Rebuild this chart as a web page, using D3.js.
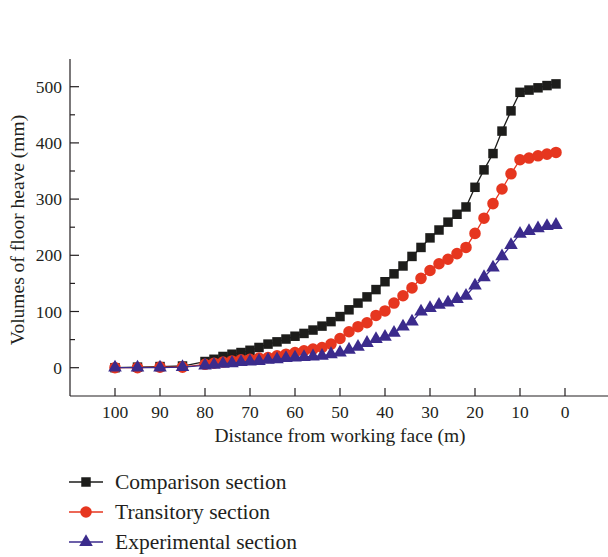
<!DOCTYPE html>
<html>
<head>
<meta charset="utf-8">
<script src="https://cdn.jsdelivr.net/npm/d3@7"></script>
<style>
  body { margin: 0; background: #fff; }
  svg text { font-family: "Liberation Serif", "Times New Roman", serif; fill: #231f20; }
</style>
</head>
<body>
<div class="chart"></div>
<script>
// distance from working face (m)
const distance = [100, 95, 90, 85, 80, 78, 76, 74, 72, 70, 68, 66, 64, 62, 60, 58, 56, 54, 52, 50,
  48, 46, 44, 42, 40, 38, 36, 34, 32, 30, 28, 26, 24, 22, 20, 18, 16, 14, 12, 10, 8, 6, 4, 2];

const comparison = [0, 1, 2, 3, 11, 15, 20, 24, 27, 31, 36, 42, 46, 51, 56, 61, 67, 74, 82, 91,
  103, 115, 126, 139, 153, 167, 181, 198, 214, 231, 245, 259, 273, 286, 321, 352, 381, 421, 457, 490, 494, 498, 502, 505];

const transitory = [0, 0, 1, 1, 6, 8, 10, 12, 14, 15, 17, 18, 21, 24, 27, 30, 33, 36, 42, 52,
  64, 73, 80, 93, 101, 115, 128, 142, 159, 173, 185, 193, 203, 214, 239, 266, 292, 318, 345, 370, 373, 377, 380, 383];

const experimental = [0, 0, 0, 1, 4, 5, 7, 8, 10, 11, 12, 14, 15, 17, 18, 19, 20, 21, 24, 27,
  32, 37, 44, 51, 55, 62, 73, 82, 100, 106, 112, 116, 122, 128, 146, 161, 178, 198, 218, 238, 243, 248, 252, 254];

const xTicks = [100, 90, 80, 70, 60, 50, 40, 30, 20, 10, 0];
const yTicks = [0, 100, 200, 300, 400, 500];

const seriesNames = ["Comparison section", "Transitory section", "Experimental section"];
const seriesColors = ["#1d1d1b", "#e6361f", "#3b2b8c"];
const seriesShapes = [d3.symbolSquare, d3.symbolCircle, d3.symbolTriangle];
const seriesValues = [comparison, transitory, experimental];

const W = 608, H = 557;
const svg = d3.select(".chart").append("svg")
  .attr("width", W)
  .attr("height", H);

const x = d3.scaleLinear().domain([100, 0]).range([115, 565]);
const y = d3.scaleLinear().domain([0, 500]).range([367.7, 86.7]);
const axisX = 70, axisY = 396, axisTop = 59;

// axes lines
svg.append("line").attr("x1", axisX).attr("x2", axisX).attr("y1", axisTop).attr("y2", axisY)
  .attr("stroke", "#231f20").attr("stroke-width", 1.2);
svg.append("line").attr("x1", axisX).attr("x2", W).attr("y1", axisY).attr("y2", axisY)
  .attr("stroke", "#231f20").attr("stroke-width", 1.2);

// y ticks (inward), minor every 50
const yMinor = d3.range(50, 500, 100);
svg.selectAll(".ytick").data(yTicks).enter().append("line")
  .attr("x1", axisX).attr("x2", axisX + 9)
  .attr("y1", d => y(d)).attr("y2", d => y(d))
  .attr("stroke", "#231f20").attr("stroke-width", 1.2);
svg.selectAll(".yminor").data(yMinor).enter().append("line")
  .attr("x1", axisX).attr("x2", axisX + 5)
  .attr("y1", d => y(d)).attr("y2", d => y(d))
  .attr("stroke", "#231f20").attr("stroke-width", 1.2);
svg.selectAll(".ylab").data(yTicks).enter().append("text")
  .attr("x", 62).attr("y", d => y(d) + 6)
  .attr("text-anchor", "end")
  .attr("font-size", 17.5)
  .text(d => d);

// x ticks (inward)
svg.selectAll(".xtick").data(xTicks).enter().append("line")
  .attr("x1", d => x(d)).attr("x2", d => x(d))
  .attr("y1", axisY).attr("y2", axisY - 8)
  .attr("stroke", "#231f20").attr("stroke-width", 1.2);
svg.selectAll(".xlab").data(xTicks).enter().append("text")
  .attr("x", d => x(d)).attr("y", 418)
  .attr("text-anchor", "middle")
  .attr("font-size", 17.5)
  .text(d => d);

svg.append("text")
  .attr("x", 340).attr("y", 442)
  .attr("text-anchor", "middle")
  .attr("font-size", 19.5)
  .text("Distance from working face (m)");

svg.append("text")
  .attr("transform", "translate(24,230) rotate(-90)")
  .attr("text-anchor", "middle")
  .attr("font-size", 19.5)
  .text("Volumes of floor heave (mm)");

// series
const line = d3.line().x(d => x(d[0])).y(d => y(d[1]));
const sizes = [90, 105, 80];

seriesValues.forEach((vals, i) => {
  const pts = distance.map((d, j) => [d, vals[j]]);
  svg.append("path")
    .datum(pts)
    .attr("d", line)
    .attr("fill", "none")
    .attr("stroke", seriesColors[i])
    .attr("stroke-width", 1.3);
  svg.selectAll(".m" + i).data(pts).enter().append("path")
    .attr("d", d3.symbol().type(seriesShapes[i]).size(sizes[i]))
    .attr("transform", d => "translate(" + x(d[0]) + "," + y(d[1]) + ")")
    .attr("fill", seriesColors[i]);
});

// legend
const legend = svg.append("g");
seriesNames.forEach((name, i) => {
  const ly = 482 + i * 30;
  legend.append("line")
    .attr("x1", 69).attr("x2", 103).attr("y1", ly).attr("y2", ly)
    .attr("stroke", seriesColors[i]).attr("stroke-width", 1.3);
  legend.append("path")
    .attr("d", d3.symbol().type(seriesShapes[i]).size(sizes[i]))
    .attr("transform", "translate(86," + ly + ")")
    .attr("fill", seriesColors[i]);
  legend.append("text")
    .attr("x", 115).attr("y", ly + 7)
    .attr("font-size", 21.5)
    .text(name);
});
</script>
</body>
</html>
